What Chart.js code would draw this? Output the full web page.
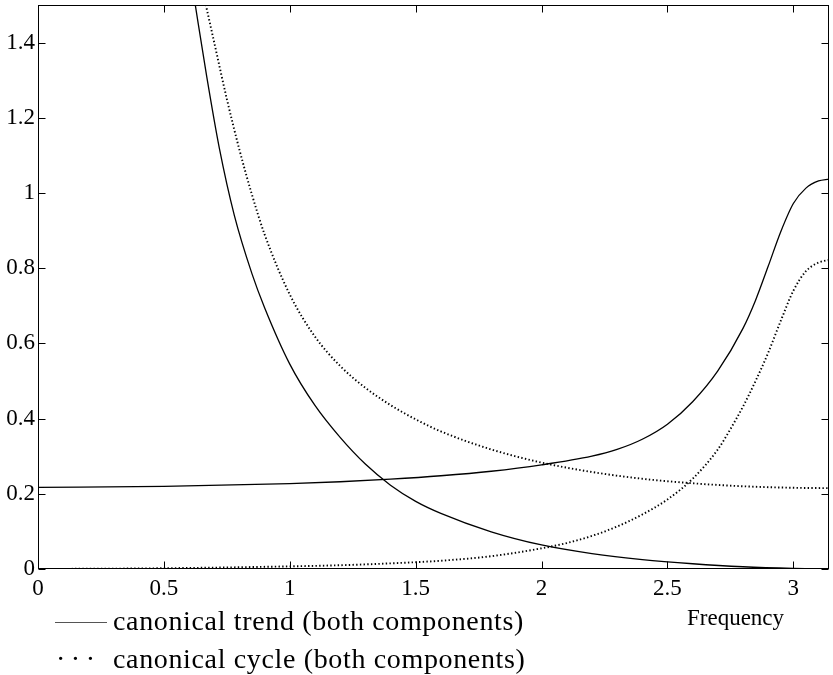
<!DOCTYPE html>
<html><head><meta charset="utf-8">
<script src="https://cdn.jsdelivr.net/npm/chart.js@4.4.1/dist/chart.umd.min.js"></script>
<style>
html,body{margin:0;padding:0;background:#fff;}
#wrap{position:relative;width:833px;height:675px;overflow:hidden;}
canvas{position:absolute;left:0;top:0;}
.t{position:absolute;font-family:'Liberation Serif',serif;color:#000;white-space:nowrap;line-height:1;}
</style></head><body>
<div id="wrap">
<canvas id="c" width="833" height="675"></canvas>
<div style="position:absolute;left:55px;top:622px;width:52px;height:0;border-top:1px solid #555;"></div>
<div class="t" style="left:113px;top:607px;font-size:28px;letter-spacing:0.65px;">canonical trend (both components)</div>
<div class="t" style="left:56px;top:645px;font-size:28px;letter-spacing:5.5px;">···</div>
<div class="t" style="left:113px;top:645px;font-size:28px;letter-spacing:0.65px;">canonical cycle (both components)</div>
<div class="t" style="left:687px;top:606px;font-size:23px;">Frequency</div>
</div>
<script>
// ---- data ----
const trendDownFreq = [0.62, 0.67, 0.72, 0.78, 0.85, 0.9, 1.0, 1.1, 1.2, 1.3, 1.4, 1.5, 1.6, 1.8, 2.0, 2.2, 2.4, 2.6, 2.8, 3.0, 3.1416];
const trendDownVal  = [1.52, 1.31, 1.12, 0.94, 0.785, 0.695, 0.545, 0.435, 0.350, 0.279, 0.223, 0.180, 0.148, 0.099, 0.064, 0.041, 0.025, 0.014, 0.006, 0.0015, 0];

const cycleDownFreq = [0.66, 0.7, 0.75, 0.8, 0.85, 0.9, 1.0, 1.1, 1.2, 1.3, 1.4, 1.5, 1.6, 1.8, 2.0, 2.2, 2.4, 2.6, 2.8, 3.0, 3.1416];
const cycleDownVal  = [1.52, 1.40, 1.25, 1.115, 0.995, 0.89, 0.73, 0.618, 0.540, 0.482, 0.436, 0.398, 0.366, 0.318, 0.283, 0.258, 0.240, 0.228, 0.220, 0.216, 0.215];

const trendUpFreq = [0, 0.5, 1.0, 1.2, 1.4, 1.6, 1.8, 2.0, 2.2, 2.3, 2.4, 2.5, 2.6, 2.7, 2.8, 2.85, 2.9, 2.95, 3.0, 3.05, 3.1, 3.1416];
const trendUpVal  = [0.217, 0.220, 0.227, 0.232, 0.239, 0.248, 0.260, 0.277, 0.300, 0.318, 0.345, 0.385, 0.445, 0.527, 0.640, 0.715, 0.805, 0.897, 0.972, 1.013, 1.032, 1.037];

const cycleUpFreq = [0, 0.5, 1.0, 1.2, 1.4, 1.6, 1.8, 2.0, 2.1, 2.2, 2.3, 2.4, 2.5, 2.6, 2.7, 2.75, 2.8, 2.85, 2.9, 2.95, 3.0, 3.05, 3.1, 3.1416];
const cycleUpVal  = [0, 0.002, 0.007, 0.010, 0.015, 0.022, 0.034, 0.055, 0.069, 0.088, 0.113, 0.145, 0.185, 0.240, 0.318, 0.372, 0.432, 0.500, 0.575, 0.660, 0.740, 0.792, 0.815, 0.822];

const xMin = 0, xMax = 3.1416, xStep = 0.5;
const yMin = 0, yMax = 1.5, yStep = 0.2;

function pts(xs, ys){ return xs.map((x,i)=>({x:x, y:ys[i]})); }

const solid = {borderColor:'#000', borderWidth:1.3, pointRadius:0, fill:false, cubicInterpolationMode:'monotone'};
const dotted = {borderColor:'#000', borderWidth:1.9, borderDash:[1.4,2.3], pointRadius:0, fill:false, cubicInterpolationMode:'monotone'};

const frame = {
  id:'frame',
  afterDraw(chart){
    const {ctx, chartArea:a, scales:{x, y}} = chart;
    ctx.save();
    ctx.strokeStyle = '#000';
    ctx.lineWidth = 1;
    const L = Math.round(a.left)+0.5, R = Math.round(a.right)-0.5, T = Math.round(a.top)+0.5, B = Math.round(a.bottom)-0.5;
    ctx.strokeRect(L, T, R-L, B-T);
    const tl = 7;
    ctx.beginPath();
    x.ticks.forEach(t=>{
      const px = Math.round(x.getPixelForValue(t.value))+0.5;
      ctx.moveTo(px, B); ctx.lineTo(px, B-tl);
      ctx.moveTo(px, T); ctx.lineTo(px, T+tl);
    });
    y.ticks.forEach(t=>{
      const py = Math.round(y.getPixelForValue(t.value))+0.5;
      ctx.moveTo(L, py); ctx.lineTo(L+tl, py);
      ctx.moveTo(R, py); ctx.lineTo(R-tl, py);
    });
    ctx.stroke();
    ctx.restore();
  }
};

const tickFont = {family:"'Liberation Serif', serif", size:23};

new Chart(document.getElementById('c'), {
  type:'line',
  data:{
    datasets:[
      Object.assign({label:'canonical trend (both components)', data:pts(trendDownFreq, trendDownVal)}, solid),
      Object.assign({label:'canonical trend (both components)', data:pts(trendUpFreq, trendUpVal)}, solid),
      Object.assign({label:'canonical cycle (both components)', data:pts(cycleDownFreq, cycleDownVal)}, dotted),
      Object.assign({label:'canonical cycle (both components)', data:pts(cycleUpFreq, cycleUpVal)}, dotted)
    ]
  },
  options:{
    responsive:false,
    devicePixelRatio:1,
    animation:false,
    layout:{padding:{top:5, right:4, left:0, bottom:0}},
    plugins:{legend:{display:false}, tooltip:{enabled:false}},
    scales:{
      x:{
        type:'linear', min:xMin, max:xMax,
        grid:{display:false, drawTicks:false},
        border:{display:false},
        ticks:{stepSize:xStep, includeBounds:false, color:'#000', font:tickFont, padding:6, maxRotation:0,
               callback:v=>String(+v.toFixed(2))},
        afterFit(s){ s.height = 106; s.paddingLeft = 0; s.paddingRight = 0; }
      },
      y:{
        type:'linear', min:yMin, max:yMax,
        grid:{display:false, drawTicks:false},
        border:{display:false},
        ticks:{stepSize:yStep, includeBounds:false, color:'#000', font:tickFont, padding:3,
               callback:v=>String(+v.toFixed(2))},
        afterFit(s){ s.width = 38; s.paddingTop = 0; s.paddingBottom = 0; }
      }
    }
  },
  plugins:[frame]
});
</script>
</body></html>
